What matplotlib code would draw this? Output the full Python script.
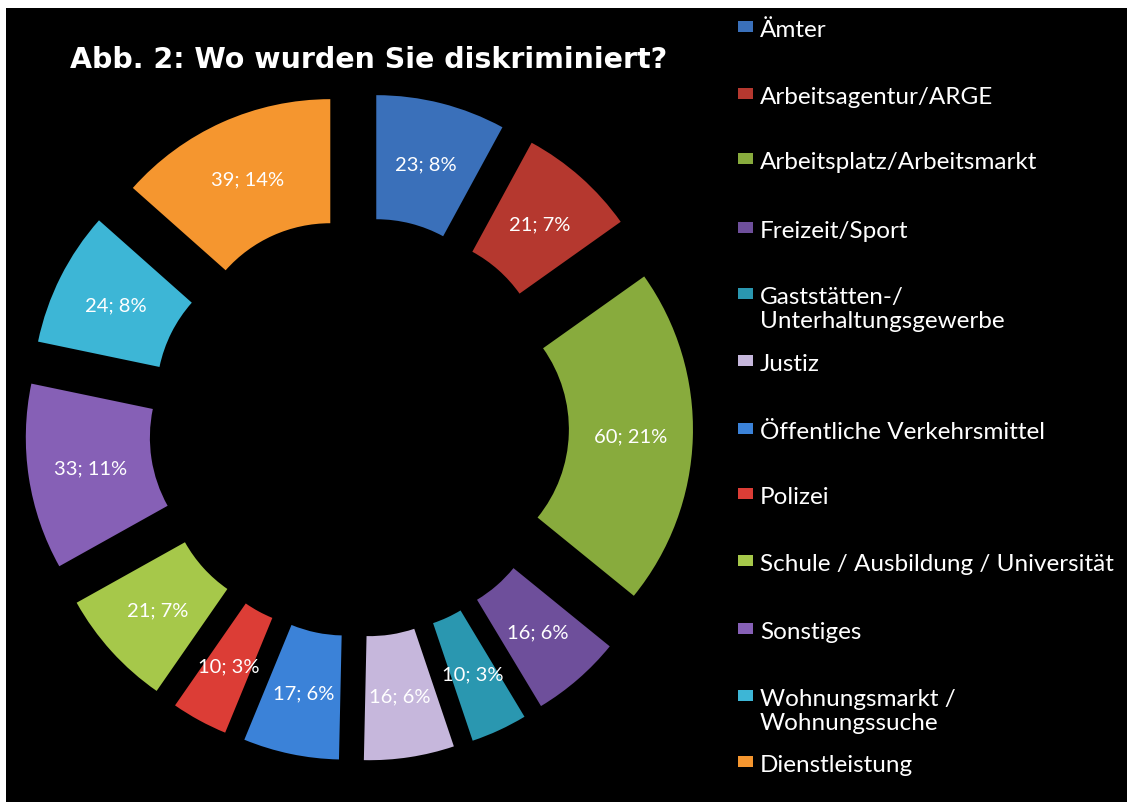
import numpy as np
import matplotlib
matplotlib.use("Agg")
import matplotlib.pyplot as plt
from matplotlib.patches import Rectangle

# Daten (im Uhrzeigersinn ab 12 Uhr)
kategorien = [
    "Ämter",
    "Arbeitsagentur/ARGE",
    "Arbeitsplatz/Arbeitsmarkt",
    "Freizeit/Sport",
    "Gaststätten-/\nUnterhaltungsgewerbe",
    "Justiz",
    "Öffentliche Verkehrsmittel",
    "Polizei",
    "Schule / Ausbildung / Universität",
    "Sonstiges",
    "Wohnungsmarkt /\nWohnungssuche",
    "Dienstleistung",
]
anzahl = [23, 21, 60, 16, 10, 16, 17, 10, 21, 33, 24, 39]
prozent = ["8%", "7%", "21%", "6%", "3%", "6%", "6%", "3%", "7%", "11%", "8%", "14%"]

farben = ["#3a70ba", "#b5382f", "#88ab3d", "#6e4f9b", "#2a97b0", "#c6b7dc",
          "#3b82d8", "#dc3d36", "#a6c84a", "#8660b6", "#3db6d6", "#f5962f"]

# Layout in Pixeln
W, H = 1127, 803
cx, cy, R = 359, 428, 264


def px(x, y):
    return (x - cx) / R, (cy - y) / R


fig = plt.figure(figsize=(W / 100, H / 100), dpi=100, facecolor="white")

# schwarzer Hintergrund (oben/links bleibt ein weisser Rand)
bg = fig.add_axes([6 / W, 0, 1 - 6 / W, (H - 9) / H], zorder=0)
bg.set_facecolor("black")
bg.set_xticks([])
bg.set_yticks([])
for s in bg.spines.values():
    s.set_visible(False)

ax = fig.add_axes([0, 0, 1, 1], zorder=1)
ax.set_facecolor("none")
x0, y1 = px(0, 0)
x1, y0 = px(W, H)

wedges, _ = ax.pie(anzahl, radius=1, startangle=90, counterclock=False,
                   explode=[70 / R] * len(anzahl), colors=farben,
                   wedgeprops=dict(width=0.47, edgecolor="none"))

# Beschriftung in der Mitte jedes Segments
for w, n, p in zip(wedges, anzahl, prozent):
    th = np.deg2rad((w.theta1 + w.theta2) / 2)
    r = w.r - w.width / 2
    ax.text(w.center[0] + r * np.cos(th), w.center[1] + r * np.sin(th),
            f"{n}; {p}", color="white", fontsize=14.5, family="Lato",
            ha="center", va="center")

ax.set_xlim(x0, x1)
ax.set_ylim(y0, y1)
ax.set_aspect("auto")
ax.axis("off")

# Titel
fig.text(369 / W, 1 - 60 / H, "Abb. 2: Wo wurden Sie diskriminiert?",
         color="white", fontsize=20.5, fontweight="bold", family="DejaVu Sans",
         ha="center", va="center", zorder=2)

# Legende
leg_y = [28, 95, 160, 229, 295, 362, 430, 495, 562, 630, 697, 763]
for lab, c, yy in zip(kategorien, farben, leg_y):
    xa, ya = px(738, yy + 5)
    ax.add_patch(Rectangle((xa, ya), 15 / R, 11 / R, facecolor=c,
                           edgecolor="none", clip_on=False))
    xt, yt = px(760, yy - 8)
    ax.text(xt, yt, lab, color="white", fontsize=17.5, family="Lato",
            ha="left", va="top", linespacing=1.15)

fig.savefig("out.png", dpi=100, facecolor=fig.get_facecolor())
